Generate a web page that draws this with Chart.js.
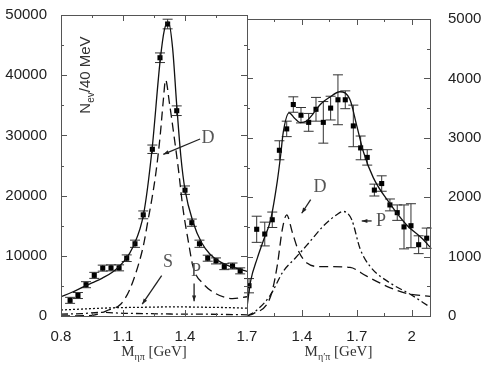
<!DOCTYPE html>
<html>
<head>
<meta charset="utf-8">
<script src="https://cdn.jsdelivr.net/npm/chart.js@4/dist/chart.umd.min.js"></script>
<style>
  html, body { margin: 0; padding: 0; background: #fff; }
  #wrap { position: relative; width: 485px; height: 366px; }
  #wrap canvas { position: absolute; left: 0; top: 0; }
</style>
</head>
<body>
<div id="wrap">
  <canvas id="etaPiChart" width="485" height="366"></canvas>
  <canvas id="etaPrimeChart" width="485" height="366"></canvas>
</div>
<script>
// ---- left panel: eta pi ----
const etaPiMass = [0.844, 0.882, 0.921, 0.961, 1.002, 1.042, 1.081, 1.118, 1.158, 1.198, 1.242,
  1.279, 1.316, 1.360, 1.400, 1.433, 1.470, 1.510, 1.550, 1.590, 1.630, 1.667];
const etaPiEvents = [2600, 3400, 5200, 6750, 7950, 8000, 8000, 9600, 12000, 16800, 27700,
  42900, 48500, 34100, 20900, 15500, 12000, 9600, 9150, 8200, 8300, 7500];
const etaPiErr = [500, 500, 500, 500, 500, 500, 500, 550, 600, 650, 700,
  800, 800, 800, 700, 600, 600, 500, 500, 500, 500, 500];

const etaPiFitX = [0.80, 0.85, 0.90, 0.95, 1.00, 1.05, 1.10, 1.15, 1.20, 1.24, 1.28, 1.30,
  1.32, 1.34, 1.36, 1.38, 1.40, 1.44, 1.48, 1.52, 1.56, 1.60, 1.65, 1.70];
const etaPiFitY = [3200, 3900, 4700, 5500, 6300, 7300, 8900, 11600, 17000, 27500, 42500, 47500,
  48800, 44500, 35000, 26500, 21000, 15500, 12200, 10300, 9200, 8500, 7900, 7400];

const etaPiDX = [0.80, 0.95, 1.03, 1.09, 1.13, 1.17, 1.20, 1.22, 1.24, 1.26, 1.28, 1.295,
  1.306, 1.325, 1.343, 1.368, 1.39, 1.416, 1.44, 1.49, 1.55, 1.63, 1.70];
const etaPiDY = [0, 100, 1000, 2000, 4200, 8000, 11900, 15700, 19500, 24000, 30000, 35800,
  39200, 35300, 30900, 24400, 17900, 12400, 8050, 5300, 3700, 2900, 3200];

const etaPiSX = [0.80, 0.90, 1.00, 1.10, 1.20, 1.30, 1.40, 1.50, 1.60, 1.70];
const etaPiSY = [1000, 1150, 1300, 1400, 1450, 1500, 1500, 1450, 1400, 1300];
const etaPiPX = [0.80, 0.90, 1.00, 1.10, 1.20, 1.30, 1.40, 1.50, 1.60, 1.70];
const etaPiPY = [300, 400, 600, 450, 400, 350, 300, 300, 250, 200];

const etaPiTicks = [0.8, 1.1, 1.4, 1.7];

// ---- right panel: eta' pi ----
const etaPrimeMass = [1.111, 1.153, 1.197, 1.238, 1.277, 1.317, 1.353, 1.395, 1.437, 1.477, 1.517,
  1.557, 1.597, 1.637, 1.681, 1.721, 1.757, 1.796, 1.836, 1.881, 1.921, 1.958, 1.996, 2.038, 2.082];
const etaPrimeEvents = [510, 1460, 1380, 1620, 2790, 3150, 3560, 3380, 3260, 3480, 3260,
  3500, 3640, 3640, 3200, 2830, 2670, 2120, 2230, 1870, 1740, 1500, 1520, 1200, 1310];
const etaPrimeErr = [120, 220, 200, 130, 160, 130, 130, 130, 150, 200, 350,
  200, 420, 150, 350, 200, 130, 100, 130, 100, 130, 370, 370, 150, 170];

const etaPrimeFitX = [1.10, 1.12, 1.156, 1.193, 1.229, 1.266, 1.284, 1.298, 1.33, 1.36, 1.39, 1.426,
  1.46, 1.499, 1.55, 1.608, 1.663, 1.70, 1.736, 1.79, 1.88, 1.97, 2.06, 2.10];
const etaPrimeFitY = [150, 590, 970, 1300, 1620, 2280, 2710, 3090, 3420, 3330, 3257, 3284,
  3400, 3557, 3680, 3775, 3640, 3200, 2766, 2330, 1895, 1541, 1296, 1160];

const etaPrimeDX = [1.10, 1.138, 1.211, 1.238, 1.266, 1.293, 1.317, 1.348, 1.384, 1.43, 1.485,
  1.55, 1.663, 1.754, 1.88, 1.97, 2.10];
const etaPrimeDY = [0, 44, 207, 425, 861, 1459, 1704, 1405, 1078, 887, 833,
  830, 817, 670, 479, 381, 330];

const etaPrimePX = [1.10, 1.153, 1.226, 1.298, 1.362, 1.426, 1.517, 1.59, 1.626, 1.672, 1.718,
  1.773, 1.88, 1.99, 2.10];
const etaPrimePY = [0, 98, 343, 752, 969, 1188, 1514, 1704, 1760, 1623, 1132,
  833, 560, 370, 150];

const etaPrimeTicks = [1.1, 1.4, 1.7, 2.0];

Chart.defaults.font.family = '"Liberation Sans", Arial, sans-serif';
Chart.defaults.font.size = 15;
Chart.defaults.color = '#222';
Chart.defaults.animation = false;

const pairs = (xs, ys) => xs.map((x, i) => ({ x: x, y: ys[i] }));

function curve(xs, ys, dash) {
  return {
    data: pairs(xs, ys),
    showLine: true,
    pointRadius: 0,
    borderColor: '#111',
    borderWidth: 1.3,
    borderDash: dash,
    cubicInterpolationMode: 'monotone',
    fill: false
  };
}

function points(xs, ys) {
  return {
    data: pairs(xs, ys),
    showLine: false,
    pointStyle: 'rect',
    pointRadius: 3.6,
    backgroundColor: '#000',
    borderColor: '#000',
    borderWidth: 0
  };
}

// frame with inward ticks
const frameTicks = {
  id: 'frameTicks',
  afterDraw(chart) {
    const { ctx, chartArea: a, scales } = chart;
    ctx.save();
    ctx.strokeStyle = '#555';
    ctx.lineWidth = 1;
    ctx.strokeRect(Math.round(a.left) + 0.5, Math.round(a.top) + 0.5,
      Math.round(a.right - a.left), Math.round(a.bottom - a.top));
    const withMinor = vals => {
      const out = [];
      vals.forEach((v, i) => {
        out.push([v, 6]);
        if (i < vals.length - 1) out.push([(v + vals[i + 1]) / 2, 3]);
      });
      return out;
    };
    ctx.beginPath();
    withMinor(scales.x.ticks.map(t => t.value)).forEach(([v, len]) => {
      const px = Math.round(scales.x.getPixelForValue(v)) + 0.5;
      ctx.moveTo(px, a.bottom); ctx.lineTo(px, a.bottom - len);
      ctx.moveTo(px, a.top); ctx.lineTo(px, a.top + len);
    });
    withMinor(scales.y.ticks.map(t => t.value)).forEach(([v, len]) => {
      const py = Math.round(scales.y.getPixelForValue(v)) + 0.5;
      ctx.moveTo(a.left, py); ctx.lineTo(a.left + len, py);
      ctx.moveTo(a.right, py); ctx.lineTo(a.right - len, py);
    });
    ctx.stroke();
    ctx.restore();
  }
};

// vertical error bars under the data markers
const errorBars = {
  id: 'errorBars',
  beforeDatasetsDraw(chart, args, opts) {
    const { ctx, scales } = chart;
    ctx.save();
    ctx.strokeStyle = '#333';
    ctx.lineWidth = 1;
    ctx.beginPath();
    opts.xs.forEach((x, i) => {
      const px = scales.x.getPixelForValue(x);
      const top = scales.y.getPixelForValue(opts.ys[i] + opts.err[i]);
      const bot = scales.y.getPixelForValue(opts.ys[i] - opts.err[i]);
      ctx.moveTo(px, top); ctx.lineTo(px, bot);
      ctx.moveTo(px - 5, top); ctx.lineTo(px + 5, top);
      ctx.moveTo(px - 5, bot); ctx.lineTo(px + 5, bot);
    });
    ctx.stroke();
    ctx.restore();
  }
};

// D / S / P labels with arrows, and axis titles
const notes = {
  id: 'notes',
  afterDraw(chart, args, opts) {
    const { ctx, scales, chartArea: a } = chart;
    const X = v => scales.x.getPixelForValue(v);
    const Y = v => scales.y.getPixelForValue(v);
    ctx.save();
    ctx.fillStyle = '#555';
    ctx.strokeStyle = '#222';
    ctx.lineWidth = 1.3;
    ctx.font = '18px "Liberation Serif", "Times New Roman", serif';
    ctx.textAlign = 'center';
    ctx.textBaseline = 'middle';
    opts.labels.forEach(n => {
      ctx.fillText(n.text, X(n.at[0]), Y(n.at[1]));
      const x1 = X(n.from[0]), y1 = Y(n.from[1]);
      const x2 = X(n.to[0]), y2 = Y(n.to[1]);
      ctx.beginPath();
      ctx.moveTo(x1, y1); ctx.lineTo(x2, y2);
      ctx.stroke();
      const ang = Math.atan2(y2 - y1, x2 - x1);
      ctx.beginPath();
      ctx.moveTo(x2, y2);
      ctx.lineTo(x2 - 6 * Math.cos(ang - 0.35), y2 - 6 * Math.sin(ang - 0.35));
      ctx.lineTo(x2 - 6 * Math.cos(ang + 0.35), y2 - 6 * Math.sin(ang + 0.35));
      ctx.closePath();
      ctx.fillStyle = '#222';
      ctx.fill();
      ctx.fillStyle = '#555';
    });

    // x title: M with subscript, then [GeV]
    const big = '15px "Liberation Serif", "Times New Roman", serif';
    const small = '10px "Liberation Serif", "Times New Roman", serif';
    ctx.fillStyle = '#333';
    ctx.textAlign = 'left';
    ctx.textBaseline = 'alphabetic';
    ctx.font = big;
    const wM = ctx.measureText('M').width;
    const wG = ctx.measureText(' [GeV]').width;
    ctx.font = small;
    const wS = ctx.measureText(opts.sub).width;
    let x0 = (a.left + a.right) / 2 - (wM + wS + wG) / 2;
    const base = 356;
    ctx.font = big; ctx.fillText('M', x0, base);
    ctx.font = small; ctx.fillText(opts.sub, x0 + wM, base + 4);
    ctx.font = big; ctx.fillText(' [GeV]', x0 + wM + wS, base);

    // y title (left panel only)
    if (opts.yTitle) {
      ctx.translate(a.left + 24, 75);
      ctx.rotate(-Math.PI / 2);
      const f1 = '15px "Liberation Sans", Arial, sans-serif';
      const f2 = '10px "Liberation Sans", Arial, sans-serif';
      ctx.font = f1;
      const wN = ctx.measureText('N').width;
      const wR = ctx.measureText('/40 MeV').width;
      ctx.font = f2;
      const wE = ctx.measureText('ev').width;
      let s = -(wN + wE + wR) / 2;
      ctx.fillStyle = '#333';
      ctx.font = f1; ctx.fillText('N', s, 5);
      ctx.font = f2; ctx.fillText('ev', s + wN, 9);
      ctx.font = f1; ctx.fillText('/40 MeV', s + wN + wE, 5);
    }
    ctx.restore();
  }
};

const fixTicks = values => scale => { scale.ticks = values.map(v => ({ value: v })); };

new Chart(document.getElementById('etaPiChart'), {
  type: 'scatter',
  data: {
    datasets: [
      curve(etaPiSX, etaPiSY, [2, 2]),
      curve(etaPiPX, etaPiPY, [7, 3, 2, 3]),
      curve(etaPiDX, etaPiDY, [9, 5]),
      curve(etaPiFitX, etaPiFitY, []),
      points(etaPiMass, etaPiEvents)
    ]
  },
  options: {
    responsive: false,
    layout: { padding: { top: 10, right: 238, left: 0, bottom: 0 } },
    scales: {
      x: {
        type: 'linear', min: 0.8, max: 1.7,
        afterBuildTicks: fixTicks(etaPiTicks),
        afterFit: s => { s.height = 50; },
        grid: { display: false },
        border: { display: false },
        ticks: { padding: 4, maxRotation: 0, callback: v => String(v) }
      },
      y: {
        min: 0, max: 50000,
        ticks: { stepSize: 10000, padding: 6, callback: v => String(v) },
        afterFit: s => { s.width = 61; },
        grid: { display: false },
        border: { display: false }
      }
    },
    plugins: {
      legend: { display: false },
      tooltip: { enabled: false },
      errorBars: { xs: etaPiMass, ys: etaPiEvents, err: etaPiErr },
      notes: {
        sub: 'ηπ',
        yTitle: true,
        labels: [
          { text: 'D', at: [1.511, 29600], from: [1.473, 29400], to: [1.295, 26850] },
          { text: 'S', at: [1.318, 9000], from: [1.287, 6700], to: [1.193, 1960] },
          { text: 'P', at: [1.453, 7500], from: [1.444, 5400], to: [1.444, 2450] }
        ]
      }
    }
  },
  plugins: [frameTicks, errorBars, notes]
});

new Chart(document.getElementById('etaPrimeChart'), {
  type: 'scatter',
  data: {
    datasets: [
      curve(etaPrimePX, etaPrimePY, [7, 3, 2, 3]),
      curve(etaPrimeDX, etaPrimeDY, [9, 5]),
      curve(etaPrimeFitX, etaPrimeFitY, []),
      points(etaPrimeMass, etaPrimeEvents)
    ]
  },
  options: {
    responsive: false,
    layout: { padding: { top: 10, right: 0, left: 247, bottom: 0 } },
    scales: {
      x: {
        type: 'linear', min: 1.1, max: 2.1,
        afterBuildTicks: fixTicks(etaPrimeTicks),
        afterFit: s => { s.height = 50; },
        grid: { display: false },
        border: { display: false },
        ticks: { padding: 4, maxRotation: 0, callback: v => (v === 1.1 ? '' : String(v)) }
      },
      y: {
        position: 'right',
        min: 0, max: 5000,
        ticks: { stepSize: 1000, padding: 10, callback: v => String(v) },
        afterFit: s => { s.width = 55; },
        grid: { display: false },
        border: { display: false }
      }
    },
    plugins: {
      legend: { display: false },
      tooltip: { enabled: false },
      errorBars: { xs: etaPrimeMass, ys: etaPrimeEvents, err: etaPrimeErr },
      notes: {
        sub: 'η′π',
        yTitle: false,
        labels: [
          { text: 'D', at: [1.499, 2170], from: [1.448, 1960], to: [1.399, 1730] },
          { text: 'P', at: [1.832, 1600], from: [1.781, 1600], to: [1.727, 1600] }
        ]
      }
    }
  },
  plugins: [frameTicks, errorBars, notes]
});
</script>
</body>
</html>
